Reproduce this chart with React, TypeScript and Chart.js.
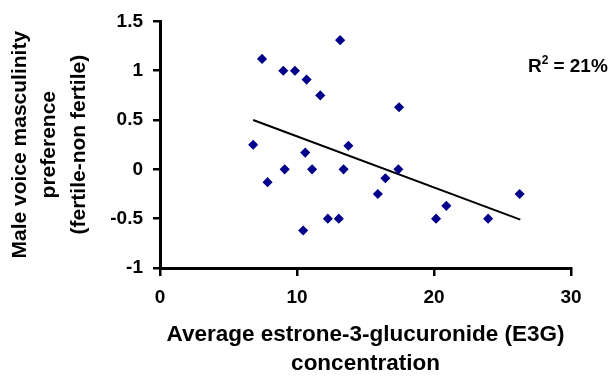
import React, { useEffect, useRef } from "react";
import { Chart, registerables } from "chart.js";

Chart.register(...registerables);

// E3G concentration (x) vs male voice masculinity preference (y)
const e3gValues = [
  6.8, 7.45, 7.85, 9.0, 9.1, 9.85, 10.7, 10.6, 10.45, 11.1, 11.7, 12.25,
  13.15, 13.05, 13.4, 13.75, 15.9, 16.45, 17.4, 17.45, 20.15, 20.9, 23.95, 26.25,
];
const preferenceValues = [
  0.25, 1.12, -0.13, 1.0, 0.0, 1.0, 0.91, 0.17, -0.62, 0.0, 0.75, -0.5,
  1.31, -0.5, 0.0, 0.24, -0.25, -0.09, 0.0, 0.63, -0.5, -0.37, -0.5, -0.25,
];
// Linear trend line end points
const trendX = [6.8, 26.3];
const trendY = [0.5, -0.51];

const xTicks = [0, 10, 20, 30];
const yTicks = [-1, -0.5, 0, 0.5, 1, 1.5];
const xTitle = ["Average estrone-3-glucuronide (E3G)", "concentration"];
const yTitle = ["Male voice masculinity", "preference", "(fertile-non fertile)"];
const rSquaredLabel = { base: "R", sup: "2", rest: "= 21%" };

const FONT = "'Liberation Sans', Arial, Helvetica, sans-serif";

const rSquaredPlugin = {
  id: "rSquared",
  afterDraw(chart: any) {
    const ctx = chart.ctx as CanvasRenderingContext2D;
    const { right, top } = chart.chartArea;
    ctx.save();
    ctx.fillStyle = "#000";
    ctx.textBaseline = "alphabetic";
    ctx.textAlign = "left";
    const baseY = top + 51;
    let x = right - 43;
    ctx.font = `bold 19px ${FONT}`;
    ctx.fillText(rSquaredLabel.base, x, baseY);
    x += ctx.measureText(rSquaredLabel.base).width;
    ctx.font = `bold 12px ${FONT}`;
    ctx.fillText(rSquaredLabel.sup, x, baseY - 8);
    x += ctx.measureText(rSquaredLabel.sup).width + 5;
    ctx.font = `bold 19px ${FONT}`;
    ctx.fillText(rSquaredLabel.rest, x, baseY);
    ctx.restore();
  },
};

export default function App() {
  const canvasRef = useRef<HTMLCanvasElement | null>(null);

  useEffect(() => {
    if (!canvasRef.current) return;
    const points = e3gValues.map((x, i) => ({ x, y: preferenceValues[i] }));
    const trend = trendX.map((x, i) => ({ x, y: trendY[i] }));
    const chart = new Chart(canvasRef.current, {
      type: "scatter",
      data: {
        datasets: [
          {
            data: points,
            backgroundColor: "#00008B",
            borderColor: "#00008B",
            borderWidth: 1.5,
            pointStyle: "rectRot",
            pointRadius: 4,
          },
          {
            data: trend,
            showLine: true,
            borderColor: "#000",
            borderWidth: 2,
            pointRadius: 0,
            fill: false,
          },
        ],
      },
      options: {
        responsive: false,
        animation: false,
        layout: { padding: { left: 0, right: 42, top: 15, bottom: 0 } },
        plugins: { legend: { display: false }, tooltip: { enabled: false } },
        scales: {
          x: {
            type: "linear",
            min: 0,
            max: 30,
            afterFit: (scale: any) => {
              scale.height = 109;
            },
            afterBuildTicks: (scale: any) => {
              scale.ticks = xTicks.map((v) => ({ value: v }));
            },
            ticks: {
              padding: 10,
              color: "#000",
              font: { family: FONT, size: 19, weight: "bold" },
              callback: (v: any) => String(v),
            },
            grid: {
              drawOnChartArea: false,
              drawTicks: true,
              tickLength: 8,
              color: "#000",
              lineWidth: 2.5,
            },
            border: { display: true, color: "#000", width: 3 },
            title: {
              display: true,
              text: xTitle,
              color: "#000",
              padding: { top: 0, bottom: -2 },
              font: { family: FONT, size: 22.5, weight: "bold", lineHeight: "29.5px" },
            },
          },
          y: {
            type: "linear",
            min: -1,
            max: 1.5,
            afterFit: (scale: any) => {
              scale.width = 160;
            },
            afterBuildTicks: (scale: any) => {
              scale.ticks = yTicks.map((v) => ({ value: v }));
            },
            ticks: {
              padding: 10,
              color: "#000",
              font: { family: FONT, size: 19, weight: "bold" },
              callback: (v: any) => String(v),
            },
            grid: {
              drawOnChartArea: false,
              drawTicks: true,
              tickLength: 7,
              color: "#000",
              lineWidth: 2.5,
            },
            border: { display: true, color: "#000", width: 3 },
            title: {
              display: true,
              text: yTitle,
              color: "#000",
              padding: { top: 5, bottom: 0 },
              font: { family: FONT, size: 21, weight: "bold", lineHeight: "29.5px" },
            },
          },
        },
      },
      plugins: [rSquaredPlugin],
    });
    return () => chart.destroy();
  }, []);

  return (
    <div style={{ position: "absolute", left: 0, top: 0, width: 613, height: 377, background: "#fff" }}>
      <canvas ref={canvasRef} width={613} height={377} />
    </div>
  );
}
